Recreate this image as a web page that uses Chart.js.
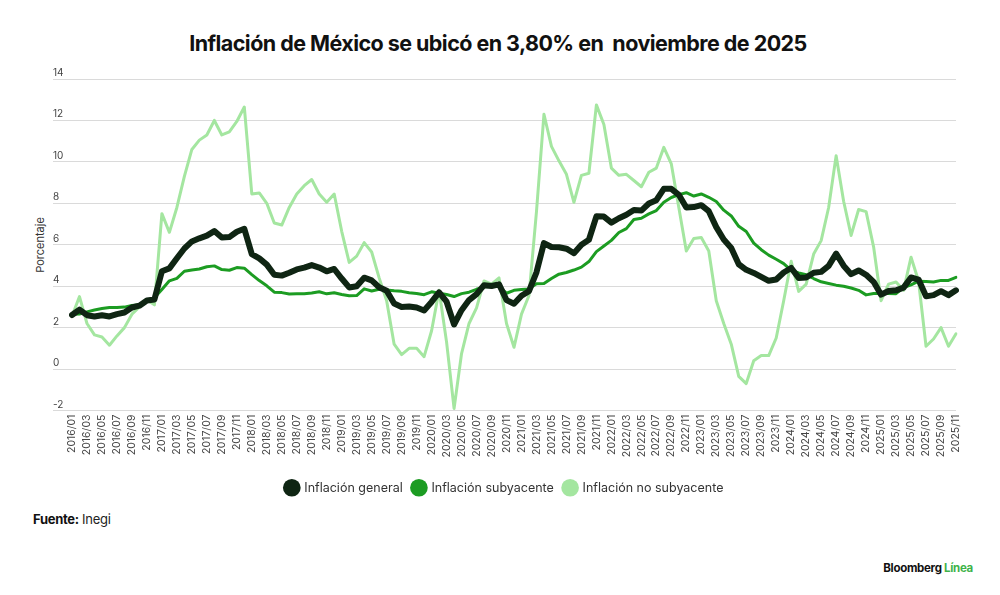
<!DOCTYPE html>
<html lang="es">
<head>
<meta charset="utf-8">
<title>Inflación de México</title>
<script src="https://cdn.jsdelivr.net/npm/chart.js@4.4.1/dist/chart.umd.min.js"></script>
<style>
    body { margin: 0; background: #fff; font-family: Inter, "Liberation Sans", sans-serif; }
    #wrap { position: relative; width: 1000px; height: 595px; overflow: hidden; background: #fff; }
    #chart { position: absolute; left: 0; top: 0; }
    .title { position: absolute; left: 0; width: 996px; top: 30px; text-align: center; font-weight: 700; font-size: 21.5px; letter-spacing: -0.55px; color: #111; }
    .ylabel { position: absolute; left: 40px; top: 245px; transform: translate(-50%, -50%) rotate(-90deg); font-size: 11px; color: #333; white-space: nowrap; }
    .source { position: absolute; left: 33px; top: 511px; font-size: 13px; color: #222; letter-spacing: -0.3px; }
    .source b { font-weight: 700; color: #111; }
    .brand { position: absolute; right: 27px; top: 561px; font-size: 11.5px; font-weight: 700; letter-spacing: -0.3px; color: #111; }
    .brand span { color: #3fb34a; }
</style>
</head>
<body>
<div id="wrap">
    <div class="title">Inflación de México se ubicó en 3,80% en&nbsp; noviembre de 2025</div>
    <div class="ylabel">Porcentaje</div>
    <canvas id="chart" width="1000" height="504"></canvas>
    <div class="source"><b>Fuente:</b> Inegi</div>
    <div class="brand">Bloomberg <span>Línea</span></div>
</div>
<script>
// Monthly labels 2016/01 .. 2025/11
const months = [];
for (let year = 2016; year <= 2025; year++) {
    for (let m = 1; m <= 12; m++) {
        if (year === 2025 && m > 11) break;
        months.push(year + '/' + String(m).padStart(2, '0'));
    }
}

const yTicks = [-2, 0, 2, 4, 6, 8, 10, 12, 14];

// Inflación general (% anual)
const general = [
    2.61, 2.87, 2.60, 2.54, 2.60, 2.54, 2.65, 2.73, 2.97, 3.06, 3.31, 3.36,
    4.72, 4.86, 5.35, 5.82, 6.16, 6.31, 6.44, 6.66, 6.35, 6.37, 6.63, 6.77,
    5.55, 5.34, 5.04, 4.55, 4.51, 4.65, 4.81, 4.90, 5.02, 4.90, 4.72, 4.83,
    4.37, 3.94, 4.00, 4.41, 4.28, 3.95, 3.78, 3.16, 3.00, 3.02, 2.97, 2.83,
    3.24, 3.70, 3.25, 2.15, 2.84, 3.33, 3.62, 4.05, 4.01, 4.09, 3.33, 3.15,
    3.54, 3.76, 4.67, 6.08, 5.89, 5.88, 5.81, 5.59, 6.00, 6.24, 7.37, 7.36,
    7.07, 7.28, 7.45, 7.68, 7.65, 7.99, 8.15, 8.70, 8.70, 8.41, 7.80, 7.82,
    7.91, 7.62, 6.85, 6.25, 5.84, 5.06, 4.79, 4.64, 4.45, 4.26, 4.32, 4.66,
    4.88, 4.40, 4.42, 4.65, 4.69, 4.98, 5.57, 4.99, 4.58, 4.76, 4.55, 4.21,
    3.59, 3.77, 3.80, 3.93, 4.42, 4.32, 3.51, 3.57, 3.76, 3.57, 3.80
];

// Inflación subyacente
const subyacente = [
    2.64, 2.66, 2.76, 2.85, 2.92, 2.97, 2.97, 2.99, 3.07, 3.10, 3.29, 3.44,
    3.84, 4.26, 4.38, 4.72, 4.78, 4.83, 4.94, 4.98, 4.80, 4.77, 4.90, 4.87,
    4.56, 4.27, 4.02, 3.71, 3.69, 3.62, 3.63, 3.63, 3.67, 3.73, 3.63, 3.68,
    3.60, 3.54, 3.55, 3.87, 3.77, 3.85, 3.82, 3.78, 3.75, 3.68, 3.65, 3.59,
    3.73, 3.66, 3.60, 3.50, 3.64, 3.71, 3.85, 3.97, 3.99, 3.98, 3.66, 3.80,
    3.84, 3.87, 4.12, 4.13, 4.37, 4.58, 4.66, 4.78, 4.92, 5.19, 5.67, 5.94,
    6.21, 6.59, 6.78, 7.22, 7.28, 7.49, 7.65, 8.05, 8.28, 8.42, 8.51, 8.35,
    8.45, 8.29, 8.09, 7.67, 7.39, 6.89, 6.64, 6.08, 5.76, 5.50, 5.30, 5.09,
    4.76, 4.64, 4.55, 4.37, 4.21, 4.13, 4.05, 4.00, 3.91, 3.80, 3.58, 3.65,
    3.66, 3.65, 3.64, 3.93, 4.06, 4.24, 4.23, 4.20, 4.28, 4.28, 4.43
];

// Inflación no subyacente
const noSubyacente = [
    2.55, 3.50, 2.20, 1.65, 1.55, 1.15, 1.60, 2.00, 2.65, 3.00, 3.35, 3.10,
    7.50, 6.60, 7.80, 9.30, 10.60, 11.05, 11.30, 12.00, 11.30, 11.45, 11.95, 12.65,
    8.45, 8.50, 8.00, 7.05, 6.95, 7.80, 8.45, 8.85, 9.15, 8.45, 8.05, 8.45,
    6.65, 5.15, 5.45, 6.10, 5.65, 4.40, 3.30, 1.20, 0.70, 1.00, 1.00, 0.60,
    1.85, 3.80, 1.30, -1.90, 0.75, 2.20, 2.95, 4.25, 4.10, 4.40, 2.20, 1.05,
    2.65, 3.55, 7.60, 12.30, 10.75, 10.05, 9.40, 8.05, 9.35, 9.45, 12.75, 11.80,
    9.70, 9.35, 9.40, 9.10, 8.80, 9.50, 9.70, 10.70, 9.90, 7.80, 5.70, 6.30,
    6.35, 5.70, 3.30, 2.20, 1.20, -0.35, -0.70, 0.40, 0.65, 0.65, 1.50, 3.30,
    5.20, 3.75, 4.10, 5.55, 6.20, 7.80, 10.30, 8.10, 6.45, 7.70, 7.60, 5.90,
    3.30, 4.10, 4.20, 3.80, 5.40, 4.25, 1.10, 1.45, 2.00, 1.10, 1.70
];

const fontFamily = 'Inter, "Liberation Sans", sans-serif';

function lineDataset(label, data, color, width) {
    return {
        label: label,
        data: data,
        borderColor: color,
        backgroundColor: color,
        borderWidth: width,
        pointRadius: 0,
        pointHoverRadius: 0,
        pointStyle: 'circle',
        tension: 0,
        borderJoinStyle: 'round',
        borderCapStyle: 'round',
        fill: false
    };
}

const ctx = document.getElementById('chart').getContext('2d');
new Chart(ctx, {
    type: 'line',
    data: {
        labels: months,
        datasets: [
            lineDataset('Inflación general', general, '#0f2513', 6),
            lineDataset('Inflación subyacente', subyacente, '#1c9c22', 3),
            lineDataset('Inflación no subyacente', noSubyacente, '#a4e6a0', 3)
        ]
    },
    options: {
        responsive: false,
        animation: false,
        layout: { padding: { top: 79, left: 53, right: 44, bottom: 0 } },
        plugins: {
            tooltip: { enabled: false },
            legend: {
                position: 'bottom',
                labels: {
                    usePointStyle: true,
                    boxWidth: 15,
                    boxHeight: 15,
                    padding: 10,
                    color: '#333',
                    font: { family: fontFamily, size: 12.5 },
                    generateLabels: (chart) => {
                        const items = Chart.defaults.plugins.legend.labels.generateLabels(chart);
                        items.forEach(item => { item.lineWidth = 0; item.pointStyle = 'circle'; });
                        return items;
                    }
                }
            }
        },
        scales: {
            x: {
                grid: { display: false, drawTicks: false },
                border: { display: false },
                afterFit: (scale) => { scale.height = 61; },
                ticks: {
                    autoSkip: false,
                    maxRotation: 90,
                    minRotation: 90,
                    padding: 4,
                    color: '#444',
                    font: { family: fontFamily, size: 10.5 },
                    callback: function (value, index) {
                        return index % 2 === 0 ? months[index] : '';
                    }
                }
            },
            y: {
                min: yTicks[0],
                max: yTicks[yTicks.length - 1],
                afterFit: (scale) => { scale.width = 19; },
                afterBuildTicks: (scale) => { scale.ticks = yTicks.map(v => ({ value: v })); },
                grid: { color: '#dadada', lineWidth: 1, drawTicks: true, tickLength: 19 },
                border: { display: false },
                ticks: {
                    crossAlign: 'far',
                    labelOffset: -6,
                    padding: 0,
                    color: '#444',
                    font: { family: fontFamily, size: 10 }
                }
            }
        }
    }
});
</script>
</body>
</html>
